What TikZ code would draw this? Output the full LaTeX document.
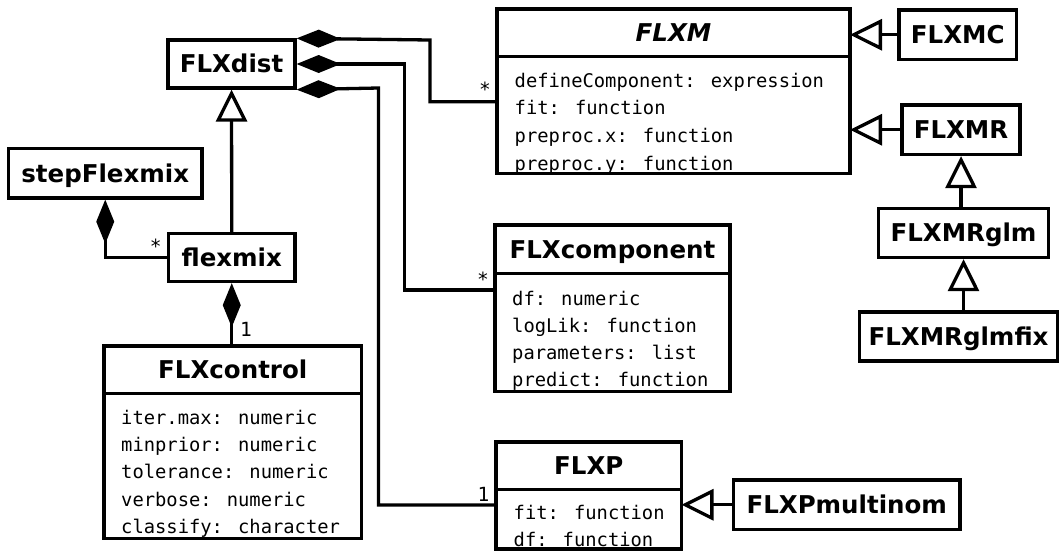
\documentclass[tikz,border=0pt]{standalone}
\usepackage{fontspec}
\setmainfont{DejaVu Sans}
\newfontfamily\attrfam{DejaVu Sans Mono}
\usetikzlibrary{arrows.meta}
\newcommand\clsfont{\fontsize{24.5}{28}\selectfont\bfseries}
\newcommand\attrfont{\attrfam\fontsize{18.8}{22}\selectfont}
\newcommand\multfont{\attrfam\fontsize{19.5}{22}\selectfont}
\tikzset{
  cls/.style={draw, line width=3.3pt, font=\clsfont, text height=17.6pt, text depth=0pt, inner sep=0pt},
  frame/.style={inner sep=0pt, outer sep=0pt},
  ttl/.style={font=\clsfont, text height=17.6pt, text depth=0pt, inner sep=0pt},
  attr/.style={font=\attrfont, inner sep=0pt, anchor=base west},
  mult/.style={font=\multfont, inner sep=0pt, anchor=base},
  border/.style={line width=3.3pt},
  comp/.style={line width=3.3pt, {Diamond[length=44pt,width=18pt,fill=black]}-},
  inh/.style={line width=3.3pt, -{Triangle[open,length=32pt,width=31pt,fill=white]}},
}
\begin{document}
\begin{tikzpicture}[x=1pt,y=-1pt]
\fill[white] (0,0) rectangle (1060,552);
\useasboundingbox (0,0) rectangle (1060,552);

% simple classes
\node[cls, minimum width=127pt, minimum height=48pt] (dist) at (231.5,64) {FLXdist};
\node[cls, minimum width=193.5pt, minimum height=49.5pt] (step) at (105.25,173.25) {stepFlexmix};
\node[cls, minimum width=126.5pt, minimum height=48pt] (fm) at (231.75,257.5) {flexmix};
\node[cls, minimum width=117.5pt, minimum height=49.5pt] (mc) at (957.75,34.75) {FLXMC};
\node[cls, minimum width=118pt, minimum height=49.5pt] (mr) at (961,129.75) {FLXMR};
\node[cls, minimum width=170pt, minimum height=49pt] (glm) at (963.5,233) {FLXMRglm};
\node[cls, minimum width=198pt, minimum height=49pt] (fix) at (958.5,336.5) {FLXMRglmfix};
\node[cls, minimum width=226.5pt, minimum height=49.5pt] (pm) at (846.75,504.75) {FLXPmultinom};

% FLXM
\node[frame, minimum width=353pt, minimum height=164.5pt] (m) at (673.5,91.25) {};
\node[ttl] (mt) at (673.5,32.85) {\itshape FLXM};
\foreach \t [count=\i] in {defineComponent: expression, fit: function, preproc.x: function, preproc.y: function}
  \node[attr] (ma\i) at ({514.5},{87.3+27.6*(\i-1)}) {\t};
\draw[border] (m.north west) rectangle (m.south east);
\draw[border] (m.west |- 0,56.7) -- (m.east |- 0,56.7);

% FLXcomponent
\node[frame, minimum width=235pt, minimum height=166.5pt] (cmp) at (612.5,308.25) {};
\node[ttl] (cmpt) at (612.5,249.25) {FLXcomponent};
\foreach \t [count=\i] in {df: numeric, logLik: function, parameters: list, predict: function}
  \node[attr] (ca\i) at ({512},{305+27.2*(\i-1)}) {\t};
\draw[border] (cmp.north west) rectangle (cmp.south east);
\draw[border] (cmp.west |- 0,273.5) -- (cmp.east |- 0,273.5);

% FLXP
\node[frame, minimum width=185.5pt, minimum height=107pt] (p) at (588.75,495.5) {};
\node[ttl] (pt) at (588.75,465.75) {FLXP};
\foreach \t [count=\i] in {fit: function, df: function}
  \node[attr] (pa\i) at ({513.5},{519.3+26.7*(\i-1)}) {\t};
\draw[border] (p.north west) rectangle (p.south east);
\draw[border] (p.west |- 0,489.5) -- (p.east |- 0,489.5);

% FLXcontrol
\node[frame, minimum width=257.5pt, minimum height=192.5pt] (ctrl) at (232.75,442.25) {};
\node[ttl] (ctrlt) at (232.75,369.75) {FLXcontrol};
\foreach \t [count=\i] in {iter.max: numeric, minprior: numeric, tolerance: numeric, verbose: numeric, classify: character}
  \node[attr] (ka\i) at ({121},{424.3+27.25*(\i-1)}) {\t};
\draw[border] (ctrl.north west) rectangle (ctrl.south east);
\draw[border] (ctrl.west |- 0,393.5) -- (ctrl.east |- 0,393.5);

% compositions
\draw[comp] (dist.north east) -- (430,40) |- (m.west |- 0,101.7);
\draw[comp] (dist.east) -- (404.7,64) |- (cmp.west |- 0,290);
\draw[comp] (dist.south east) -- (378.5,88) |- (p.west |- 0,505);
\draw[comp] (step.south) |- (fm.west);
\draw[comp] (fm.south) -- (fm.south |- ctrl.north);

% inheritance
\draw[inh] (fm.north) -- (dist.south);
\draw[inh] (mc.west) -- (mc.west -| m.east);
\draw[inh] (mr.west) -- (mr.west -| m.east);
\draw[inh] (mr.south |- glm.north) -- (mr.south);
\draw[inh] (glm.south |- fix.north) -- (glm.south);
\draw[inh] (pm.west) -- (pm.west -| p.east);

% multiplicities
\node[mult] (l1) at (485,96.7) {*};
\node[mult] (l2) at (483,286.7) {*};
\node[mult] (l3) at (483.5,501) {1};
\node[mult] (l4) at (155.8,253) {*};
\node[mult] (l5) at (246,336) {1};
\end{tikzpicture}
\end{document}
